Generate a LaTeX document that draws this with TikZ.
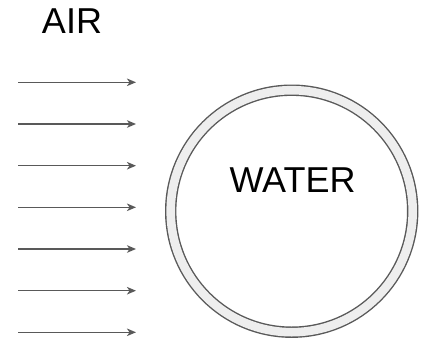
\documentclass[tikz,border=0pt]{standalone}
\usepackage{fontspec}
\setmainfont{Liberation Sans}
\usepackage{xcolor}
\usetikzlibrary{arrows.meta,positioning}

\definecolor{edgegray}{HTML}{595959}
\definecolor{ringgray}{HTML}{EEEEEE}

\begin{document}
\begin{tikzpicture}[
  x=1pt, y=1pt,
  caption/.style={font=\fontsize{36}{40}\selectfont, inner sep=0pt, anchor=base},
  drop/.style={circle, draw=edgegray, line width=1.4pt, double=ringgray,
    double distance=8.6pt, minimum size=242pt, inner sep=0pt, outer sep=0pt},
  flow/.style={-{Stealth[length=9pt, width=7.5pt, inset=2.5pt]}, draw=edgegray,
    line width=1.5pt}
]
\useasboundingbox (0,0) rectangle (421,-338);
\node[caption] (air) at (72,-33.3) {AIR};
\node[drop] (ball) at (291.7,-211.2) {};
\node[caption] (water) at (292.5,-192.7) {WATER};
\coordinate (s1) at (18.3,-82.3);  \coordinate (e1) at (136,-82.3);
\coordinate (s2) at (18.3,-124);   \coordinate (e2) at (136,-124);
\coordinate (s3) at (18.3,-165.7); \coordinate (e3) at (136,-165.7);
\coordinate (s4) at (18.3,-207.3); \coordinate (e4) at (136,-207.3);
\coordinate (s5) at (18.3,-249);   \coordinate (e5) at (136,-249);
\coordinate (s6) at (18.3,-290.7); \coordinate (e6) at (136,-290.7);
\coordinate (s7) at (18.3,-332.3); \coordinate (e7) at (136,-332.3);
\draw[flow] (s1) -- (e1);
\draw[flow] (s2) -- (e2);
\draw[flow] (s3) -- (e3);
\draw[flow] (s4) -- (e4);
\draw[flow] (s5) -- (e5);
\draw[flow] (s6) -- (e6);
\draw[flow] (s7) -- (e7);
\end{tikzpicture}
\end{document}
